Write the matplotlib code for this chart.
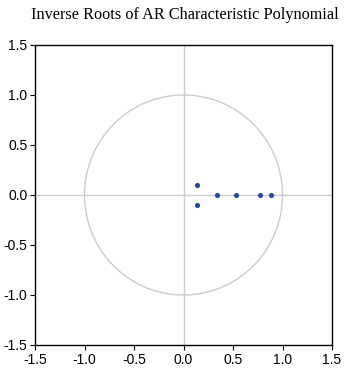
import numpy as np
import matplotlib
matplotlib.use("Agg")
import matplotlib.pyplot as plt

# inverse roots (real, imaginary)
root_re = [0.136, 0.136, 0.338, 0.530, 0.773, 0.884]
root_im = [0.096, -0.096, 0.0, 0.0, 0.0, 0.0]
ticks = [-1.5, -1.0, -0.5, 0.0, 0.5, 1.0, 1.5]

fig = plt.figure(figsize=(3.46, 3.71), dpi=100)
ax = fig.add_axes([35 / 346, 26 / 371, 297 / 346, 300 / 371])

theta = np.linspace(0, 2 * np.pi, 400)
ax.plot(np.cos(theta), np.sin(theta), color="#cccccc", lw=1.0, zorder=1)
ax.axhline(0, color="#cccccc", lw=1.0, zorder=1)
ax.axvline(0, color="#cccccc", lw=1.0, zorder=1)
ax.scatter(root_re, root_im, s=14, color="#2a4b9b", zorder=3, linewidths=0)

ax.set_xlim(-1.5, 1.5)
ax.set_ylim(-1.5, 1.5)
ax.set_xticks(ticks)
ax.set_yticks(ticks)
ax.set_xticklabels([f"{t:.1f}" for t in ticks])
ax.set_yticklabels([f"{t:.1f}" for t in ticks])
for lab in ax.get_xticklabels() + ax.get_yticklabels():
    lab.set_family("Liberation Sans")
    lab.set_fontsize(10)
ax.tick_params(direction="out", length=3.5, width=0.8, pad=2)
for sp in ax.spines.values():
    sp.set_linewidth(1.0)

fig.text(185 / 346, 1 - 15 / 371, "Inverse Roots of AR Characteristic Polynomial",
         ha="center", va="center", family="Liberation Serif", fontsize=11.7)

fig.savefig("out.png", dpi=100)
